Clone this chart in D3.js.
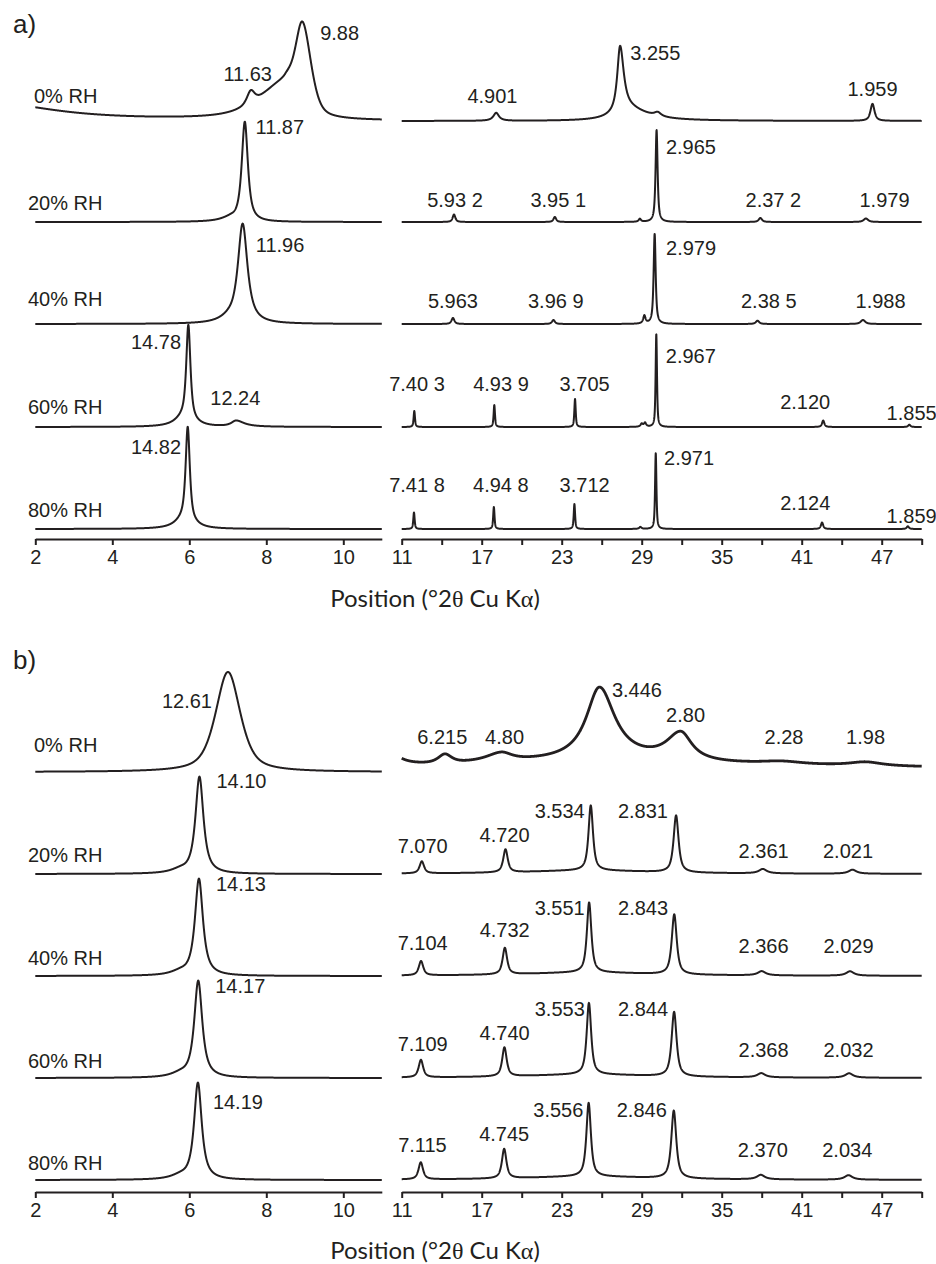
<!DOCTYPE html>
<html>
<head>
<meta charset="utf-8">
<script src="https://cdn.jsdelivr.net/npm/d3@7"></script>
<style>
  html, body { margin: 0; padding: 0; background: #fff; }
  svg { display: block; }
</style>
</head>
<body>
<svg id="chart" width="936" height="1264"></svg>
<script>
// Stacked XRD patterns recorded at five relative humidities, two samples (a, b).
const WAVELENGTH = 1.5406; // Cu Kα1, Å

const humidity = ["0% RH", "20% RH", "40% RH", "60% RH", "80% RH"];
const lowTicks = [2, 4, 6, 8, 10];
const highTicks = [11, 14, 17, 20, 23, 26, 29, 32, 35, 38, 41, 44, 47, 50];
const highTickLabels = [11, 17, 23, 29, 35, 41, 47];
const axisTitle = ["Position (°2", "θ", " Cu K", "α", ")"];

// Each reflection: [position, height, half-width below, half-width above, Lorentzian fraction]
// A string position is the d-spacing label in Å; a number is a position in °2θ.
const peaksA_low = [
  [[1.0, 17, 1.9, 1.9, 1], ["11.63", 13, 0.12, 0.12, 0.7], [8.5, 36, 0.8, 0.3, 0.7], ["9.88", 88, 0.22, 0.26, 0.45]],
  [[7.05, 3, 0.3, 0.15, 1], ["11.87", 100, 0.095, 0.095, 0.85]],
  [[7.0, 3, 0.3, 0.15, 1], ["11.96", 100, 0.15, 0.15, 0.9]],
  [[5.8, 5, 0.25, 0.15, 1], ["14.78", 95, 0.065, 0.065, 0.8], [6.0, 5, 0.3, 0.3, 1], ["12.24", 6, 0.15, 0.25, 1]],
  [[5.8, 5, 0.25, 0.15, 1], ["14.82", 95, 0.065, 0.065, 0.8], [6.0, 5, 0.3, 0.3, 1]]
];
const peaksA_high = [
  [[27.9, 12, 1.2, 1.8, 1], ["4.901", 8, 0.25, 0.25, 1], ["3.255", 65, 0.25, 0.32, 0.9], [30.2, 4, 0.3, 0.3, 1], ["1.959", 17, 0.18, 0.18, 0.8]],
  [["5.93 2", 7.5, 0.12, 0.12, 0.8], ["3.95 1", 5, 0.12, 0.12, 0.8], [28.86, 3, 0.1, 0.1, 1], ["2.965", 92, 0.09, 0.09, 0.8], ["2.37 2", 4, 0.15, 0.15, 0.8], ["1.979", 3.5, 0.2, 0.2, 0.8]],
  [["5.963", 6, 0.13, 0.13, 0.8], ["3.96 9", 4, 0.13, 0.13, 0.8], [29.2, 8, 0.1, 0.1, 1], ["2.979", 90, 0.09, 0.09, 0.8], ["2.38 5", 3.3, 0.15, 0.15, 0.8], ["1.988", 4, 0.2, 0.2, 0.8]],
  [["7.40 3", 16, 0.06, 0.06, 0.7], ["4.93 9", 22, 0.06, 0.06, 0.7], ["3.705", 28, 0.06, 0.06, 0.7], [29.0, 3, 0.1, 0.1, 1], [29.25, 4, 0.1, 0.1, 1], ["2.967", 93, 0.06, 0.06, 0.7], ["2.120", 6.5, 0.1, 0.1, 0.8], ["1.855", 2.3, 0.1, 0.1, 0.8]],
  [["7.41 8", 16.5, 0.06, 0.06, 0.7], ["4.94 8", 22, 0.06, 0.06, 0.7], ["3.712", 25, 0.06, 0.06, 0.7], [28.9, 2, 0.1, 0.1, 1], ["2.971", 76, 0.06, 0.06, 0.7], ["2.124", 6.5, 0.1, 0.1, 0.8], ["1.859", 2.7, 0.1, 0.1, 0.8]]
];

const peaksB_low = [
  [["12.61", 100, 0.38, 0.38, 0.6]],
  [[5.75, 3, 0.3, 0.2, 1], ["14.10", 97, 0.125, 0.125, 0.9]],
  [[5.75, 3, 0.3, 0.2, 1], ["14.13", 97, 0.125, 0.125, 0.9]],
  [[5.75, 3, 0.3, 0.2, 1], ["14.17", 97, 0.125, 0.125, 0.9]],
  [[5.75, 3, 0.3, 0.2, 1], ["14.19", 97, 0.12, 0.12, 0.9]]
];
const peaksB_high = [
  [[10.0, 14, 1.0, 1.0, 1], [24, 7, 9, 14, 1], [30, 3.5, 80, 80, 1], ["6.215", 9, 0.6, 0.6, 0.8], ["4.80", 9, 1.4, 1.0, 1], ["3.446", 73, 1.2, 1.4, 1], ["2.80", 28, 1.3, 1.0, 1], ["2.28", 3, 2, 2, 1], ["1.98", 4, 1.5, 1.5, 1]],
  [[25, 3.5, 6, 6, 1], ["7.070", 12, 0.2, 0.2, 0.8], ["4.720", 23, 0.2, 0.2, 0.8], ["3.534", 65, 0.2, 0.2, 0.8], ["2.831", 57, 0.22, 0.22, 0.8], ["2.361", 4.4, 0.35, 0.35, 1], ["2.021", 4, 0.35, 0.35, 1]],
  [[25, 3.5, 6, 6, 1], ["7.104", 14.3, 0.2, 0.2, 0.8], ["4.732", 26.5, 0.2, 0.2, 0.8], ["3.551", 70, 0.2, 0.2, 0.8], ["2.843", 60, 0.22, 0.22, 0.8], ["2.366", 4.2, 0.35, 0.35, 1], ["2.029", 4.4, 0.35, 0.35, 1]],
  [[25, 3.5, 6, 6, 1], ["7.109", 17.5, 0.2, 0.2, 0.8], ["4.740", 29, 0.2, 0.2, 0.8], ["3.553", 71.5, 0.2, 0.2, 0.8], ["2.844", 64.5, 0.22, 0.22, 0.8], ["2.368", 4.2, 0.35, 0.35, 1], ["2.032", 4.4, 0.35, 0.35, 1]],
  [[25, 3.5, 6, 6, 1], ["7.115", 17, 0.2, 0.2, 0.8], ["4.745", 29.5, 0.2, 0.2, 0.8], ["3.556", 73.5, 0.2, 0.2, 0.8], ["2.846", 67.8, 0.22, 0.22, 0.8], ["2.370", 4.5, 0.35, 0.35, 1], ["2.034", 4.5, 0.35, 0.35, 1]]
];

// Vertical stacking of the five patterns (intensity units)
const offsetsA = [408, 307, 205, 102, 0];
const offsetsB = [408, 306, 204, 102, 0];

// ---- layout ----
// d-spacing label placement: [shift from the reflection (px), height of text centre above the trace baseline (px)]
const labelPlaceA = {
  "11.63": [-3, 47.5], "9.88": [37, 88.3], "4.901": [-3.7, 25.3], "3.255": [35.2, 68.3], "1.959": [0, 31.7],
  "11.87": [35, 94.8], "5.93 2": [1, 22.3], "3.95 1": [3.4, 22.3], "2.965": [34.4, 75], "2.37 2": [13, 22.3], "1.979": [18.6, 22.3],
  "11.96": [37.4, 79], "5.963": [0, 23.3], "3.96 9": [2.3, 23.3], "2.979": [36.4, 76.2], "2.38 5": [11.3, 23.3], "1.988": [17.6, 23.3],
  "14.78": [-32.3, 85.3], "12.24": [-0.8, 28.7], "7.40 3": [2.7, 43], "4.93 9": [6.7, 43], "3.705": [9.6, 43], "2.967": [34.5, 71.3], "2.120": [-18, 24.7], "1.855": [2.3, 14.3],
  "14.82": [-31.7, 81.7], "7.41 8": [3, 43.7], "4.94 8": [7, 43.7], "3.712": [10.2, 43.7], "2.971": [33.3, 70.7], "2.124": [-16.8, 25.7], "1.859": [3.8, 13.3]
};
const labelPlaceB = {
  "12.61": [-41, 71], "6.215": [-2.6, 35.3], "4.80": [3.3, 35.3], "3.446": [37.5, 82], "2.80": [4.7, 57], "2.28": [2.4, 35.3], "1.98": [0, 35.3],
  "14.10": [42, 93], "7.070": [0.9, 28.3], "4.720": [-0.9, 39], "3.534": [-31.1, 62.8], "2.831": [-33.1, 62.8], "2.361": [0.8, 22.8], "2.021": [-4.5, 22.8],
  "14.13": [42, 92], "7.104": [1.7, 33.5], "4.732": [-0.2, 46], "3.551": [-29.4, 68.5], "2.843": [-31.2, 68.5], "2.366": [1.9, 29.7], "2.029": [-1.5, 29.7],
  "14.17": [42, 92], "7.109": [1.8, 33.8], "4.740": [0.2, 44.7], "3.553": [-29.2, 68.8], "2.844": [-31.1, 68.8], "2.368": [2.3, 28.3], "2.032": [-0.6, 28.3],
  "14.19": [40, 78.3], "7.115": [1.7, 35], "4.745": [0, 45.8], "3.556": [-30.3, 70], "2.846": [-32, 70], "2.370": [2, 29.7], "2.034": [-1.2, 29.7]
};

const INK = "#231f20";
const SANS = "Liberation Sans, Arial, Helvetica, sans-serif";

const panels = [
  { tag: "a)", tagY: 33, base: 529, axisY: 539, titleY: 607, low: peaksA_low, high: peaksA_high, offsets: offsetsA, place: labelPlaceA,
    rowLabelX: [34, 28, 28, 28, 28], rowLabelRise: [25, 19, 24.7, 19.7, 19], grainy: [] },
  { tag: "b)", tagY: 669, base: 1180, axisY: 1192, titleY: 1259, low: peaksB_low, high: peaksB_high, offsets: offsetsB, place: labelPlaceB,
    rowLabelX: [34, 28, 28, 28, 28], rowLabelRise: [27, 19, 18, 17, 17.5], grainy: [0] }
];

// ---- helpers ----
const twoTheta = d => 2 * Math.asin(WAVELENGTH / (2 * d)) * 180 / Math.PI;
const peakPos = p => typeof p === "string" ? twoTheta(parseFloat(p.replace(/\s/g, ""))) : p;

// Split pseudo-Voigt profile summed over all reflections of one pattern
function intensity(peaks, t) {
  let s = 0;
  for (const p of peaks) {
    const d = t - peakPos(p[0]);
    const w = d < 0 ? p[2] : p[3];
    const u = (d / w) * (d / w);
    const eta = p[4];
    s += p[1] * (eta / (1 + u) + (1 - eta) * Math.exp(-Math.LN2 * u));
  }
  return s;
}

const svg = d3.select("#chart");
const xLow = d3.scaleLinear().domain([2, 11]).range([35.3, 381.8]);
const xHigh = d3.scaleLinear().domain([11, 50]).range([401.7, 921.7]);

panels.forEach(P => {
  const g = svg.append("g");
  const y = d3.scaleLinear().domain([0, 100]).range([P.base, P.base - 100]);

  const windows = [
    { x: xLow, peaks: P.low, step: 0.004, wide: false },
    { x: xHigh, peaks: P.high, step: 0.01, wide: true }
  ];

  windows.forEach(W => {
    const [t0, t1] = W.x.domain();
    const grid = d3.range(t0, t1 + W.step / 2, W.step);
    W.peaks.forEach((rowPeaks, i) => {
      const off = P.offsets[i];
      const pts = grid.map(t => [t, intensity(rowPeaks, t) + off]);
      const line = d3.line().x(d => W.x(d[0])).y(d => y(d[1]));
      // the dry scan of sample b is a slow, grainy measurement: drawn with a heavier pen
      const heavy = W.wide && P.grainy.includes(i);
      g.append("path")
        .attr("d", line(pts))
        .attr("fill", "none")
        .attr("stroke", INK)
        .attr("stroke-width", heavy ? 2.8 : 2)
        .attr("stroke-linejoin", "round");

      rowPeaks.filter(p => typeof p[0] === "string").forEach(p => {
        const pl = P.place[p[0]] || [0, 20];
        g.append("text")
          .attr("x", W.x(peakPos(p[0])) + pl[0])
          .attr("y", y(off) - pl[1] + 7)
          .attr("text-anchor", "middle")
          .attr("font-family", SANS)
          .attr("font-size", 20)
          .attr("fill", INK)
          .text(p[0]);
      });
    });
  });

  // humidity labels
  humidity.forEach((h, i) => {
    g.append("text")
      .attr("x", P.rowLabelX[i])
      .attr("y", y(P.offsets[i]) - P.rowLabelRise[i] + 7)
      .attr("font-family", SANS)
      .attr("font-size", 20)
      .attr("fill", INK)
      .text(h);
  });

  // axes
  const axLow = d3.axisBottom(xLow).tickValues(lowTicks).tickSize(6).tickSizeOuter(0).tickPadding(5);
  const axHigh = d3.axisBottom(xHigh).tickValues(highTicks).tickSize(6).tickSizeOuter(0).tickPadding(5)
    .tickFormat(v => highTickLabels.includes(v) ? String(v) : "");
  [axLow, axHigh].forEach(ax => {
    const a = g.append("g").attr("transform", `translate(0,${P.axisY})`).call(ax);
    a.attr("font-family", SANS).attr("font-size", 20);
    a.select(".domain").attr("stroke", INK).attr("stroke-width", 2.2);
    a.selectAll(".tick line").attr("stroke", INK).attr("stroke-width", 2);
    a.selectAll(".tick text").attr("fill", INK);
  });

  // axis title
  const title = g.append("text")
    .attr("x", 435).attr("y", P.titleY)
    .attr("text-anchor", "middle")
    .attr("font-family", "Lato, 'Open Sans', sans-serif")
    .attr("font-size", 24)
    .attr("fill", INK);
  axisTitle.forEach(part => {
    const ts = title.append("tspan").text(part);
    if (part === "θ" || part === "α") ts.attr("font-family", "Liberation Serif, serif");
  });

  // panel tag
  g.append("text")
    .attr("x", 13).attr("y", P.tagY)
    .attr("font-family", SANS)
    .attr("font-size", 26)
    .attr("fill", INK)
    .text(P.tag);
});
</script>
</body>
</html>
